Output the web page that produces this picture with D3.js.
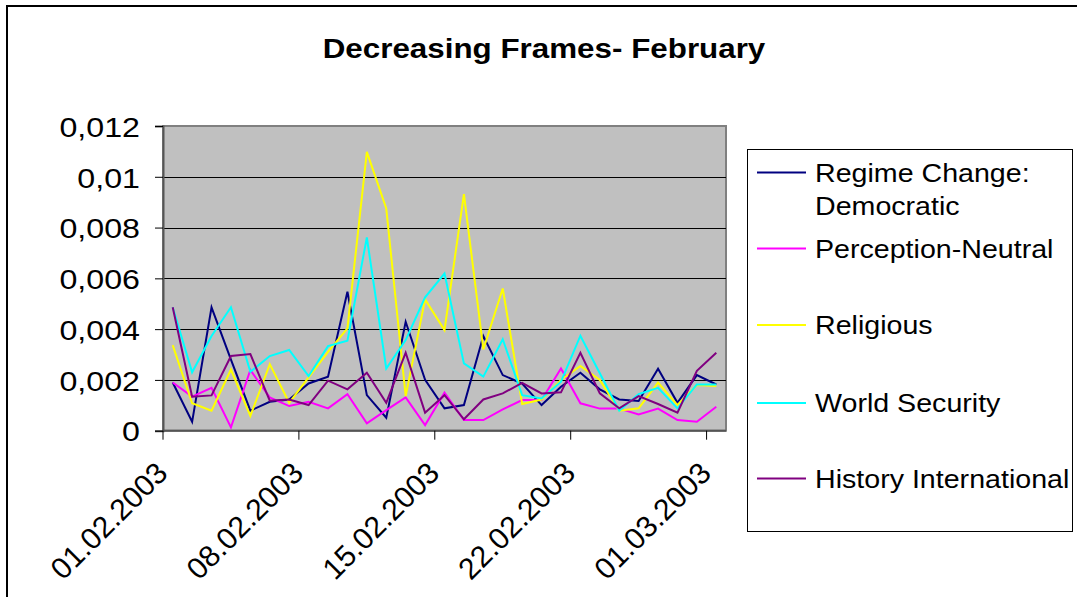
<!DOCTYPE html>
<html>
<head>
<meta charset="utf-8">
<script src="https://cdn.jsdelivr.net/npm/d3@7"></script>
<style>
  html, body { margin: 0; padding: 0; background: #fff; }
  svg { display: block; }
  text { font-family: "Liberation Sans", Arial, sans-serif; fill: #000; }
</style>
</head>
<body>
<svg id="chart" width="1077" height="597"></svg>
<script>
// Daily categories, 1 Feb – 1 Mar 2003
const days = [
  "01.02.2003","02.02.2003","03.02.2003","04.02.2003","05.02.2003","06.02.2003","07.02.2003",
  "08.02.2003","09.02.2003","10.02.2003","11.02.2003","12.02.2003","13.02.2003","14.02.2003",
  "15.02.2003","16.02.2003","17.02.2003","18.02.2003","19.02.2003","20.02.2003","21.02.2003",
  "22.02.2003","23.02.2003","24.02.2003","25.02.2003","26.02.2003","27.02.2003","28.02.2003",
  "01.03.2003"
];
const dateTicks = ["01.02.2003","08.02.2003","15.02.2003","22.02.2003","01.03.2003"];
const valueTicks = [0, 0.002, 0.004, 0.006, 0.008, 0.01, 0.012];

const seriesNames = [
  ["Regime Change:", "Democratic"],
  ["Perception-Neutral"],
  ["Religious"],
  ["World Security"],
  ["History International"]
];
const seriesColors = ["#000080", "#ff00ff", "#ffff00", "#00ffff", "#800080"];

const regimeChange = [0.0019, 0.00035, 0.00486, 0.0028, 0.00079, 0.00114, 0.00123, 0.00186, 0.00213,
  0.00547, 0.0014, 0.00051, 0.00429, 0.002, 0.00088, 0.00101, 0.00373, 0.00219, 0.00186, 0.00101,
  0.00173, 0.00228, 0.00163, 0.00123, 0.00117, 0.00244, 0.0011, 0.00219, 0.00182];
const perceptionNeutral = [0.0019, 0.00134, 0.00169, 0.00013, 0.00239, 0.00131, 0.00097, 0.00114, 0.00088,
  0.00144, 0.00029, 0.00081, 0.00131, 0.00022, 0.0015, 0.00042, 0.00042, 0.00084, 0.00121, 0.00121,
  0.00245, 0.00108, 0.00087, 0.00087, 0.00064, 0.00087, 0.00042, 0.00035, 0.00094];
const religious = [0.00337, 0.00108, 0.00079, 0.00241, 0.00058, 0.00262, 0.0011, 0.0021, 0.0031,
  0.00403, 0.01098, 0.00875, 0.00136, 0.00517, 0.00396, 0.00932, 0.0032, 0.0056, 0.00105, 0.00123,
  0.002, 0.00255, 0.002, 0.00079, 0.00088, 0.00189, 0.00101, 0.0018, 0.00176];
const worldSecurity = [0.00486, 0.0023, 0.00373, 0.00486, 0.00232, 0.00294, 0.00318, 0.00215, 0.00333,
  0.00354, 0.00761, 0.00245, 0.00357, 0.00525, 0.00619, 0.00265, 0.00213, 0.0036, 0.0014, 0.00127,
  0.00193, 0.00374, 0.00226, 0.00079, 0.00144, 0.00169, 0.00088, 0.00182, 0.00182];
const historyInternational = [0.00486, 0.00134, 0.00139, 0.00294, 0.00302, 0.00118, 0.00123, 0.00101, 0.00197,
  0.00163, 0.00228, 0.0011, 0.00307, 0.00071, 0.0014, 0.00045, 0.00123, 0.00147, 0.00188, 0.00147,
  0.00151, 0.00307, 0.00147, 0.00088, 0.00136, 0.00105, 0.00071, 0.00236, 0.00307];

const seriesValues = [regimeChange, perceptionNeutral, religious, worldSecurity, historyInternational];

const svg = d3.select("#chart");
const TEXT_STRETCH = 1.1;

// Outer chart frame (runs off the right and bottom edges)
svg.append("rect")
  .attr("x", 7).attr("y", 6)
  .attr("width", 1100).attr("height", 620)
  .attr("fill", "none").attr("stroke", "#000").attr("stroke-width", 2);

// Title
svg.append("text")
  .attr("transform", `translate(544,58) scale(1.12,1)`)
  .attr("text-anchor", "middle")
  .attr("font-size", 28)
  .attr("font-weight", "bold")
  .text("Decreasing Frames- February");

const plot = { left: 163, right: 726, top: 126, bottom: 430.7 };

const x = d3.scaleBand()
  .domain(days)
  .range([plot.left, plot.right])
  .paddingInner(0).paddingOuter(0);

const y = d3.scaleLinear()
  .domain([0, 0.012])
  .range([plot.bottom, plot.top]);

// Plot area
svg.append("rect")
  .attr("x", plot.left).attr("y", plot.top)
  .attr("width", plot.right - plot.left).attr("height", plot.bottom - plot.top)
  .attr("fill", "#c0c0c0")
  .attr("stroke", "#808080").attr("stroke-width", 2);

// Horizontal gridlines
svg.append("g")
  .selectAll("line")
  .data(valueTicks.filter(v => v > 0 && v < 0.012))
  .join("line")
  .attr("x1", plot.left).attr("x2", plot.right)
  .attr("y1", d => Math.round(y(d)) + 0.5).attr("y2", d => Math.round(y(d)) + 0.5)
  .attr("stroke", "#000").attr("stroke-width", 1);

// Series lines
const line = d3.line()
  .x((d, i) => x(days[i]) + x.bandwidth() / 2)
  .y(d => y(d));

svg.append("g")
  .selectAll("path")
  .data(seriesValues)
  .join("path")
  .attr("d", d => line(d))
  .attr("fill", "none")
  .attr("stroke", (d, i) => seriesColors[i])
  .attr("stroke-width", 2)
  .attr("stroke-linejoin", "miter");

// Value axis
const locale = d3.formatLocale({ decimal: ",", thousands: ".", grouping: [3], currency: ["", ""] });
const fmt = locale.format(".3~f");

const yAxis = svg.append("g")
  .attr("transform", `translate(${plot.left},0)`)
  .call(d3.axisLeft(y).tickValues(valueTicks).tickSize(8).tickPadding(0).tickFormat(fmt));
yAxis.select(".domain").attr("stroke", "#555").attr("stroke-width", 2);
yAxis.selectAll(".tick line").attr("stroke", "#000");
yAxis.selectAll(".tick text")
  .attr("font-size", 28.5)
  .attr("font-family", "'Liberation Sans', Arial, sans-serif")
  .attr("fill", "#000")
  .attr("x", 0)
  .attr("dy", "0.36em")
  .attr("transform", `translate(-23,0) scale(1.13,1)`);

// Category axis: ticks on category boundaries every week
const xAxis = svg.append("g")
  .attr("transform", `translate(0,${plot.bottom})`);
xAxis.append("line")
  .attr("x1", plot.left).attr("x2", plot.right)
  .attr("stroke", "#555").attr("stroke-width", 2);
xAxis.selectAll("line.tick")
  .data(dateTicks)
  .join("line")
  .attr("class", "tick")
  .attr("x1", d => x(d)).attr("x2", d => x(d))
  .attr("y1", 0).attr("y2", 9)
  .attr("stroke", "#000");
xAxis.selectAll("text")
  .data(dateTicks)
  .join("text")
  .attr("transform", d => `translate(${x(d) - 9},${29}) rotate(-45)`)
  .attr("text-anchor", "end")
  .attr("dy", "0.72em")
  .attr("font-size", 30)
  .text(d => d);

// Legend
const legend = svg.append("g");
legend.append("rect")
  .attr("x", 747.5).attr("y", 149.5)
  .attr("width", 325).attr("height", 382)
  .attr("fill", "#fff").attr("stroke", "#000").attr("stroke-width", 1);

const legendRows = [172.5, 248.5, 325, 403, 478.5];
const entry = legend.selectAll("g.entry")
  .data(seriesNames)
  .join("g")
  .attr("class", "entry")
  .attr("transform", (d, i) => `translate(0,${legendRows[i]})`);
entry.append("line")
  .attr("x1", 757).attr("x2", 806)
  .attr("stroke", (d, i) => seriesColors[i])
  .attr("stroke-width", 2);
entry.each(function(lines) {
  const g = d3.select(this);
  lines.forEach((t, k) => {
    g.append("text")
      .attr("transform", `translate(815,${k * 33}) scale(${TEXT_STRETCH},1)`)
      .attr("dy", "0.36em")
      .attr("font-size", 26)
      .text(t);
  });
});
</script>
</body>
</html>
